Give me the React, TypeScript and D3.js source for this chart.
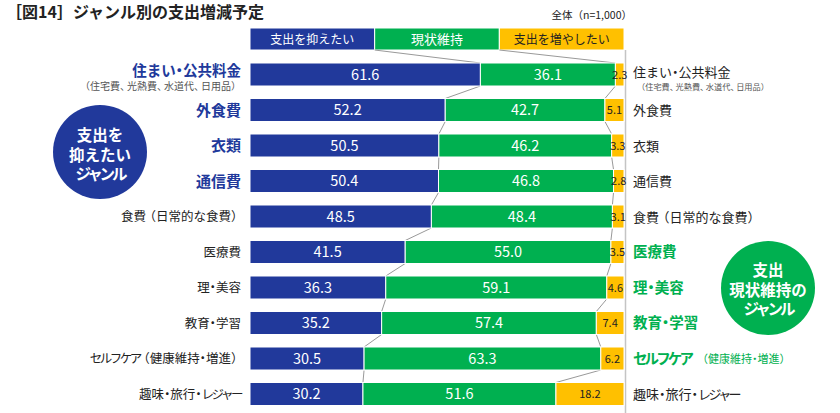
import React from "react";
import * as d3 from "d3";

const categories = [
  "住まい・公共料金",
  "外食費",
  "衣類",
  "通信費",
  "食費（日常的な食費）",
  "医療費",
  "理・美容",
  "教育・学習",
  "セルフケア（健康維持・増進）",
  "趣味・旅行・レジャー",
];
const reduceVals = [61.6, 52.2, 50.5, 50.4, 48.5, 41.5, 36.3, 35.2, 30.5, 30.2];
const keepVals = [36.1, 42.7, 46.2, 46.8, 48.4, 55.0, 59.1, 57.4, 63.3, 51.6];
const increaseVals = [2.3, 5.1, 3.3, 2.8, 3.1, 3.5, 4.6, 7.4, 6.2, 18.2];
const seriesNames = ["支出を抑えたい", "現状維持", "支出を増やしたい"];
const firstSub = "（住宅費、光熱費、水道代、日用品）";

const leftHighlight = [true, true, true, true, false, false, false, false, false, false];
const rightHighlight = [false, false, false, false, false, true, true, true, true, false];

const BLUE = "#21399b";
const GREEN = "#00b050";
const ORANGE = "#ffc000";
const FONT = "'Noto Sans CJK JP', 'Noto Sans', sans-serif";

// proportional-looking spacing for kana, middle dots and brackets, grouped in runs
function rich(s: string, fs: number) {
  const chars = Array.from(s);
  const sp = chars.map(() => 0);
  chars.forEach((ch, j) => {
    const code = ch.charCodeAt(0);
    if (ch === "・") {
      sp[j] += -0.25;
      if (j > 0) sp[j - 1] += -0.25;
    } else if (ch === "（") {
      if (j > 0) sp[j - 1] += -0.2;
    } else if (ch === "）") {
      sp[j] += -0.2;
    } else if (ch === "、") {
      sp[j] += -0.3;
    } else if (code >= 0x30a0 && code <= 0x30ff) {
      sp[j] += -0.2;
    }
  });
  const runs: { t: string; s: number }[] = [];
  chars.forEach((ch, j) => {
    const last = runs[runs.length - 1];
    if (last && last.s === sp[j]) last.t += ch;
    else runs.push({ t: ch, s: sp[j] });
  });
  return runs.map((r, j) =>
    r.s === 0 ? (
      <tspan key={j}>{r.t}</tspan>
    ) : (
      <tspan key={j} style={{ letterSpacing: `${r.s * fs}px` }}>
        {r.t}
      </tspan>
    )
  );
}

export default function App() {
  const x = d3.scaleLinear().domain([0, 100]).range([250, 624]);
  const y = d3.scalePoint<string>().domain(categories).range([74.5, 394]);
  const bh = 23;
  const colors = [BLUE, GREEN, ORANGE];

  const rows = categories.map((c, i) => {
    const v = [reduceVals[i], keepVals[i], increaseVals[i]];
    let acc = 0;
    const segs = v.map((val, k) => {
      const s = { x0: acc, x1: acc + val, val, k };
      acc += val;
      return s;
    });
    return { c, i, segs, cy: y(c) as number };
  });

  const connectors: { x1: number; y1: number; x2: number; y2: number }[] = [];
  for (let i = 0; i < rows.length - 1; i++) {
    const a = rows[i], b = rows[i + 1];
    for (let k = 0; k < 2; k++) {
      connectors.push({
        x1: x(a.segs[k].x1),
        y1: a.cy + bh / 2,
        x2: x(b.segs[k].x1),
        y2: b.cy - bh / 2,
      });
    }
  }

  const legendW = (x(100) - x(0)) / 3;
  const legendY = 28;
  const legendH = 22;
  const legendText = ["#fff", "#fff", "#222"];

  const splitLabel = (s: string) => {
    const idx = s.indexOf("（");
    if (idx < 0) return [s, ""];
    return [s.slice(0, idx), s.slice(idx)];
  };

  return (
    <svg
      width={840}
      height={413}
      style={{ position: "absolute", left: 0, top: 0, background: "#fff" }}
      fontFamily={FONT}
    >
      <rect width={840} height={413} fill="#fff" />
      <text x={6} y={18} fontSize={16} fontWeight={700} fill="#222">
        ［図14］ジャンル別の支出増減予定
      </text>
      <text x={632} y={19} fontSize={10.5} fill="#222" textAnchor="end">
        全体（n=1,000）
      </text>

      {/* legend */}
      {seriesNames.map((n, k) => (
        <g key={n}>
          <rect
            x={x(0) + k * legendW}
            y={legendY}
            width={legendW}
            height={legendH}
            fill={colors[k]}
            stroke="#fff"
            strokeWidth={1}
          />
          <text
            x={x(0) + k * legendW + legendW / 2}
            y={legendY + legendH / 2 + 4.5}
            fontSize={k === 1 ? 13 : 12}
            fill={legendText[k]}
            textAnchor="middle"
          >
            {n}
          </text>
        </g>
      ))}
      <line x1={x(0) + legendW} y1={legendY + legendH} x2={x(rows[0].segs[0].x1)} y2={rows[0].cy - bh / 2} stroke="#999" strokeWidth={1} />
      <line x1={x(0) + 2 * legendW} y1={legendY + legendH} x2={x(rows[0].segs[1].x1)} y2={rows[0].cy - bh / 2} stroke="#999" strokeWidth={1} />

      <line x1={625.5} x2={625.5} y1={legendY + legendH} y2={413} stroke="#c4c4c4" strokeWidth={1.5} />

      {connectors.map((l, j) => (
        <line key={j} {...l} stroke="#999" strokeWidth={1} />
      ))}

      {rows.map((r) => (
        <g key={r.c}>
          {r.segs.map((s) => (
            <g key={s.k}>
              <rect
                x={x(s.x0)}
                y={r.cy - bh / 2}
                width={x(s.x1) - x(s.x0)}
                height={bh}
                fill={colors[s.k]}
                stroke="#fff"
                strokeWidth={1}
              />
              <text
                x={(x(s.x0) + x(s.x1)) / 2}
                y={r.cy + (s.k === 2 ? 4 : 5)}
                fontSize={s.k === 2 ? 11 : 14.5}
                fill={s.k === 2 ? "#222" : "#fff"}
                textAnchor="middle"
              >
                {s.val.toFixed(1)}
              </text>
            </g>
          ))}
        </g>
      ))}

      {/* left labels */}
      {rows.map((r) => {
        const hl = leftHighlight[r.i];
        if (r.i === 0) {
          return (
            <g key={"l" + r.c}>
              <text x={241} y={r.cy + 1} fontSize={14.5} fontWeight={700} fill={BLUE} textAnchor="end">
                {rich(r.c, 14.5)}
              </text>
              <text x={239} y={r.cy + 15} fontSize={10} fill="#555" textAnchor="end">
                {rich(firstSub, 10)}
              </text>
            </g>
          );
        }
        const fs = hl ? 15 : 12.5;
        return (
          <text
            key={"l" + r.c}
            x={241}
            y={r.cy + (hl ? 5.5 : 4.5)}
            fontSize={fs}
            fontWeight={hl ? 700 : 400}
            fill={hl ? BLUE : "#222"}
            textAnchor="end"
          >
            {rich(r.c, fs)}
          </text>
        );
      })}

      {/* right labels */}
      {rows.map((r) => {
        const hl = rightHighlight[r.i];
        if (r.i === 0) {
          return (
            <g key={"r" + r.c}>
              <text x={633} y={r.cy + 2} fontSize={13} fill="#222">
                {rich(r.c, 13)}
              </text>
              <text x={637} y={r.cy + 15} fontSize={8.2} fill="#555">
                {rich(firstSub, 8.2)}
              </text>
            </g>
          );
        }
        const [main, sub] = splitLabel(r.c);
        const fs = hl ? 14.5 : 13;
        if (hl && sub) {
          return (
            <g key={"r" + r.c}>
              <text x={633} y={r.cy + 5} fontSize={fs} fontWeight={700} fill={GREEN}>
                {rich(main, fs)}
              </text>
              <text x={697} y={r.cy + 4} fontSize={11} fill={GREEN}>
                {rich(sub, 11)}
              </text>
            </g>
          );
        }
        return (
          <text
            key={"r" + r.c}
            x={633}
            y={r.cy + 5}
            fontSize={fs}
            fontWeight={hl ? 700 : 400}
            fill={hl ? GREEN : "#222"}
          >
            {rich(r.c, fs)}
          </text>
        );
      })}

      {/* circles */}
      <circle cx={100} cy={152} r={47} fill={BLUE} />
      {["支出を", "抑えたい", "ジャンル"].map((t, j) => (
        <text key={t} x={100} y={141 + j * 19.5} fontSize={15.5} fontWeight={700} fill="#fff" textAnchor="middle">
          {rich(t, 15.5)}
        </text>
      ))}
      <circle cx={768} cy={288} r={47} fill={GREEN} />
      {["支出", "現状維持の", "ジャンル"].map((t, j) => (
        <text key={t} x={768} y={276 + j * 19.5} fontSize={15.5} fontWeight={700} fill="#fff" textAnchor="middle">
          {rich(t, 15.5)}
        </text>
      ))}
    </svg>
  );
}
